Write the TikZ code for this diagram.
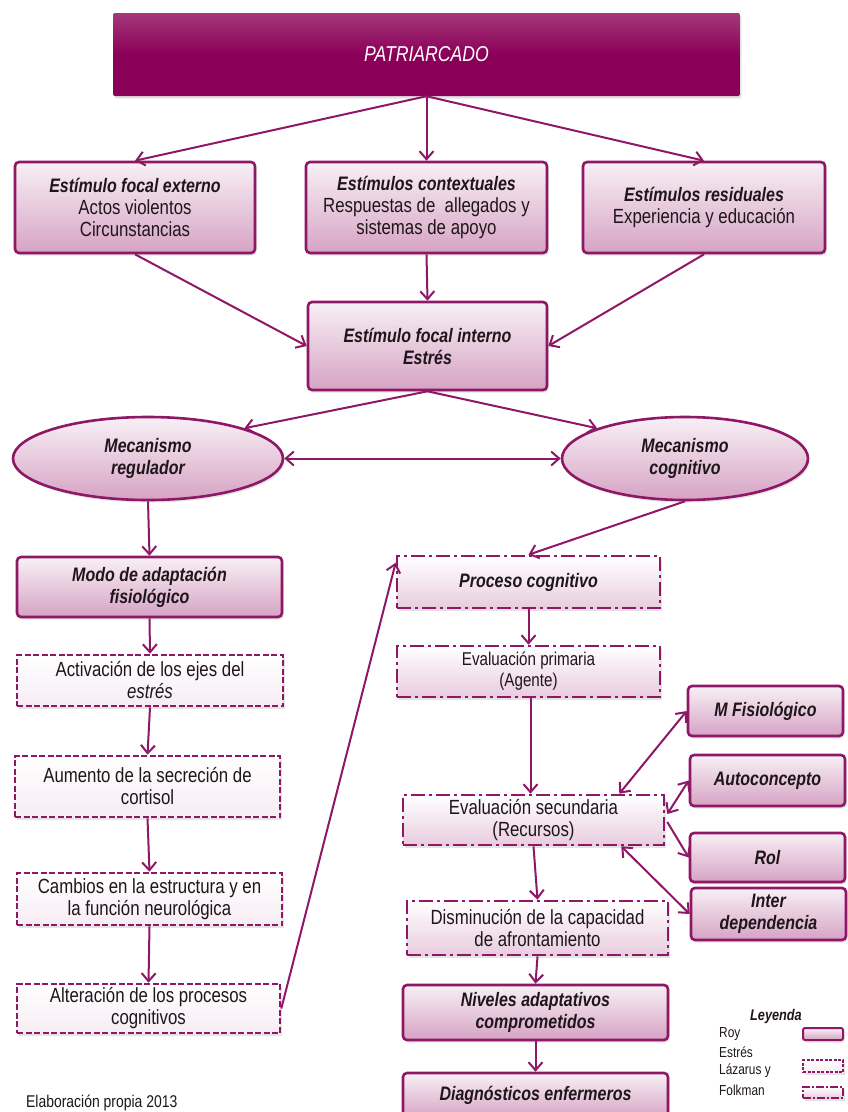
\documentclass[tikz,border=0pt]{standalone}
\usepackage{fontspec}
\setmainfont[FakeStretch=0.82]{Liberation Sans}
\usetikzlibrary{arrows.meta,shapes.geometric,shadows,calc}
\definecolor{mag}{HTML}{8E1766}
\definecolor{boxtop}{HTML}{F8F0F5}
\definecolor{boxbot}{HTML}{D6A3C4}
\definecolor{pattop}{HTML}{A4387A}
\definecolor{patbot}{HTML}{8A0058}
\definecolor{txt}{HTML}{1E161B}
\newcommand\hdtxt[1]{{\fontsize{19.5}{22}\selectfont\bfseries\itshape #1}}
\begin{document}
\begin{tikzpicture}[x=1pt,y=-1pt,
 base/.style={draw=mag, line width=2.6pt, top color=boxtop, bottom color=boxbot, text=txt, align=center, inner sep=2pt, font=\fontsize{20.5}{22}\selectfont},
 shd/.style={drop shadow={opacity=0.22,shadow xshift=1.5pt,shadow yshift=-2.5pt}},
 roybox/.style={base, rectangle, rounded corners=4pt, shd},
 ellbox/.style={base, ellipse, shd},
 patbox/.style={draw=none, top color=pattop, bottom color=patbot, middle color=patbot, text=white, rectangle, rounded corners=2pt, shd, font=\fontsize{21.5}{24}\selectfont\itshape},
 stressbox/.style={base, rectangle, dash pattern=on 6pt off 2.5pt, top color=white, bottom color=white!80!boxbot, shd},
 lfbox/.style={base, rectangle, dash pattern=on 14pt off 4pt on 3pt off 4pt, top color=white, bottom color=white!45!boxbot, shd},
 arr/.style={draw=mag, line width=2pt, -{Straight Barb[length=8pt,width=14pt]}},
 darr/.style={draw=mag, line width=2pt, {Straight Barb[length=8pt,width=14pt]}-{Straight Barb[length=8pt,width=14pt]}},
 lgtxt/.style={anchor=west, text=txt, inner sep=0pt, font=\fontsize{14.5}{15}\selectfont}
]
\useasboundingbox[fill=white] (0,0) rectangle (847,1112);

% top
\node[patbox, minimum width=627pt, minimum height=83pt] (pat) at (426.5,54.5) {PATRIARCADO};

\node[roybox, minimum width=240pt, minimum height=91pt] (ext) at (135,207.5)
 {\hdtxt{Estímulo focal externo}\\Actos violentos\\Circunstancias};
\node[roybox, minimum width=241pt, minimum height=91pt] (ctx) at (426.5,207.5)
 {\hdtxt{Estímulos contextuales}\\Respuestas de \ allegados y\\sistemas de apoyo};
\node[roybox, minimum width=242pt, minimum height=91pt] (res) at (704,207.5)
 {\hdtxt{Estímulos residuales}\\Experiencia y educación};
\node[roybox, minimum width=239pt, minimum height=88pt] (int) at (427.5,346)
 {\hdtxt{Estímulo focal interno}\\\hdtxt{Estrés}};

\node[ellbox, minimum width=270pt, minimum height=83pt, inner sep=0pt] (reg) at (148,458.5)
 {\hdtxt{Mecanismo}\\\hdtxt{regulador}};
\node[ellbox, minimum width=246pt, minimum height=83pt, inner sep=0pt] (cog) at (685,458.5)
 {\hdtxt{Mecanismo}\\\hdtxt{cognitivo}};

% left column
\node[roybox, minimum width=265pt, minimum height=60pt] (modo) at (149.5,587)
 {\hdtxt{Modo de adaptación}\\\hdtxt{fisiológico}};
\node[stressbox, minimum width=266pt, minimum height=51pt] (act) at (150,680.5)
 {Activación de los ejes del\\\textit{estrés}};
\node[stressbox, minimum width=265pt, minimum height=61pt] (aum) at (147.5,786.5)
 {Aumento de la secreción de\\cortisol};
\node[stressbox, minimum width=265pt, minimum height=52pt] (cam) at (149.5,899)
 {Cambios en la estructura y en\\la función neurológica};
\node[stressbox, minimum width=263pt, minimum height=49pt] (alt) at (148.5,1008.5)
 {Alteración de los procesos\\cognitivos};

% right column
\node[lfbox, minimum width=263pt, minimum height=52pt] (proc) at (528.5,582)
 {\hdtxt{Proceso cognitivo}};
\node[lfbox, minimum width=263pt, minimum height=51pt, font=\fontsize{18.5}{21}\selectfont] (ep) at (528.5,671.5)
 {Evaluación primaria\\(Agente)};
\node[lfbox, minimum width=261pt, minimum height=50pt] (es) at (533.5,820)
 {Evaluación secundaria\\(Recursos)};
\node[lfbox, minimum width=261pt, minimum height=54pt] (dis) at (537.5,928)
 {Disminución de la capacidad\\de afrontamiento};
\node[roybox, minimum width=265pt, minimum height=55pt] (niv) at (535.5,1012.5)
 {\hdtxt{Niveles adaptativos}\\\hdtxt{comprometidos}};
\node[roybox, minimum width=265pt, minimum height=46pt, text depth=6pt] (diag) at (535.5,1096)
 {\hdtxt{Diagnósticos enfermeros}};

% modes
\node[roybox, minimum width=155pt, minimum height=50pt] (mf) at (765.5,711) {\hdtxt{M Fisiológico}};
\node[roybox, minimum width=155pt, minimum height=51pt] (auto) at (767.5,780.5) {\hdtxt{Autoconcepto}};
\node[roybox, minimum width=155pt, minimum height=49pt] (rol) at (767.5,857.5) {\hdtxt{Rol}};
\node[roybox, minimum width=155pt, minimum height=52pt] (inter) at (768.5,914) {\hdtxt{Inter}\\\hdtxt{dependencia}};

% legend
\node[text=txt, inner sep=0pt, font=\fontsize{15.5}{16}\selectfont\bfseries\itshape] (leg) at (776,1016) {Leyenda};
\node[lgtxt] (lroy) at (719,1034) {Roy};
\node[lgtxt] (lest) at (719,1052) {Estrés};
\node[lgtxt] (llaz) at (719,1071) {Lázarus y};
\node[lgtxt] (lfol) at (719,1090) {Folkman};
\node[roybox, line width=2pt, minimum width=40pt, minimum height=12pt, inner sep=0pt, rounded corners=2pt] (lb1) at (823,1034) {};
\node[stressbox, line width=2pt, minimum width=40pt, minimum height=12pt, inner sep=0pt, dash pattern=on 3pt off 1.5pt] (lb2) at (823,1066) {};
\node[lfbox, line width=2pt, minimum width=40pt, minimum height=11pt, inner sep=0pt, dash pattern=on 8pt off 2pt on 2pt off 2pt] (lb3) at (823,1092.5) {};

\node[anchor=west, text=txt, inner sep=0pt, font=\fontsize{17}{17}\selectfont] (elab) at (26,1103) {Elaboración propia 2013};

% connectors
\draw[arr] (pat.south) -- (ext.north);
\draw[arr] (pat.south) -- (ctx.north);
\draw[arr] (pat.south) -- (res.north);
\draw[arr] (ext.south) -- (int.west);
\draw[arr] (ctx.south) -- (int.north);
\draw[arr] (res.south) -- (int.east);
\draw[arr] (int.south) -- (reg.north east);
\draw[arr] (int.south) -- (cog.north west);
\draw[darr] (reg.east) -- (cog.west);
\draw[arr] (reg.south) -- (modo.north);
\draw[arr] (cog.south) -- (proc.north);
\draw[arr] (modo.south) -- (act.north);
\draw[arr] (act.south) -- (aum.north);
\draw[arr] (aum.south) -- (cam.north);
\draw[arr] (cam.south) -- (alt.north);
\draw[arr] (alt.east) -- ($(proc.north west)+(0,8)$);
\draw[arr] (proc.south) -- (ep.north);
\draw[arr] ($(ep.south)+(2,0)$) -- ($(es.north)+(-3,0)$);
\draw[darr] ($(es.north east)+(-46,0)$) -- (mf.west);
\draw[darr] ($(es.east)+(2,-6)$) -- (auto.west);
\draw[arr] ($(es.east)+(2,2)$) -- (rol.west);
\draw[darr] ($(es.south east)+(-44,0)$) -- (inter.west);
\draw[arr] (es.south) -- (dis.north);
\draw[arr] (dis.south) -- (niv.north);
\draw[arr] (niv.south) -- (diag.north);
\end{tikzpicture}
\end{document}
